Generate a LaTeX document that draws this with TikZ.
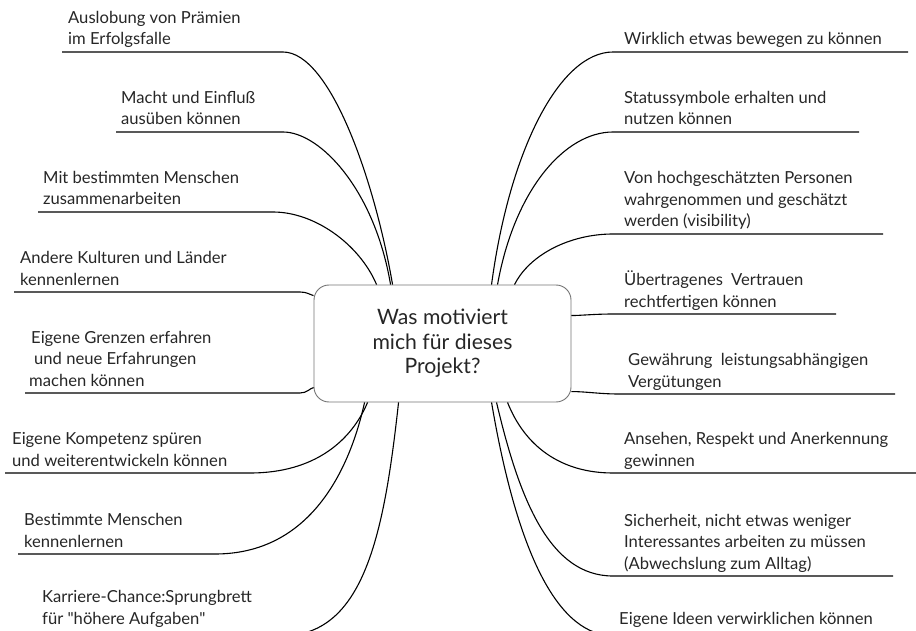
\documentclass[tikz,border=0pt]{standalone}
\usepackage{fontspec}
\setmainfont{Lato}
\begin{document}
\begin{tikzpicture}[x=1pt,y=-1pt,
  branch/.style={line width=1.1pt, black},
  % a leaf label sits with its last baseline 7pt above its underline
  leaf/.style={anchor=base west, align=left, inner sep=0pt,
    font=\fontsize{16.6}{21.5}\selectfont, text=black!85},
  hubbox/.style={draw=black!55, line width=0.9pt, rounded corners=15pt,
    minimum width=257pt, minimum height=117pt, inner sep=0pt,
    align=center, font=\fontsize{21.2}{24.5}\selectfont, text=black!85}]
\useasboundingbox (0,0) rectangle (916,631);

% central question
\node[hubbox] (hub) at (442.5,343.5) {Was motiviert\\mich für dieses\\Projekt?};

% attachment points on the border of the central box
\path (hub.north west)
  ++(79,0)  coordinate (t1) ++(-2,0) coordinate (t2) ++(-14,0) coordinate (t3);
\path (hub.north west)
  ++(178,0) coordinate (t4) ++(6,0) coordinate (t5) ++(17,0) coordinate (t6);
\path (hub.south west)
  ++(54,0) coordinate (b1) ++(-3,0) coordinate (b2) ++(34,0) coordinate (b3);
\path (hub.south west)
  ++(178,0) coordinate (b4) ++(5,0) coordinate (b5) ++(11,0) coordinate (b6);
\path (hub.north west) ++(0,11) coordinate (w1) ++(0,92) coordinate (w2);
\path (hub.north east) ++(0,31) coordinate (e1) ++(0,76) coordinate (e2);

% left branches
\node[leaf] (l1) at (68,45) {Auslobung von Prämien\\im Erfolgsfalle};
\coordinate (l1a) at (62,52);  \coordinate (l1b) at (283,52);
\draw[branch] (l1a) -- (l1b) .. controls +(47,0) and +(-18,-105) .. (t1);

\node[leaf] (l2) at (121,125) {Macht und Einfluß\\ausüben können};
\coordinate (l2a) at (116,132); \coordinate (l2b) at (283,132);
\draw[branch] (l2a) -- (l2b) .. controls +(37,0) and +(-16,-95) .. (t2);

\node[leaf] (l3) at (43,205) {Mit bestimmten Menschen\\zusammenarbeiten};
\coordinate (l3a) at (38,212); \coordinate (l3b) at (273,212);
\draw[branch] (l3a) -- (l3b) .. controls +(42,0) and +(-17,-40) .. (t3);

\node[leaf] (l4) at (20,285) {Andere Kulturen und Länder\\kennenlernen};
\coordinate (l4a) at (14,292); \coordinate (l4b) at (300,292);
\draw[branch] (l4a) -- (l4b) .. controls +(7,0) and +(-4,-1) .. (w1);

\node[leaf] (l5) at (29,386) {\hspace{2pt}Eigene Grenzen erfahren\\\hspace{5pt}und neue Erfahrungen\\machen können};
\coordinate (l5a) at (25,393); \coordinate (l5b) at (300,393);
\draw[branch] (l5a) -- (l5b) .. controls +(7,0) and +(-4,1) .. (w2);

\node[leaf] (l6) at (12,466) {Eigene Kompetenz spüren\\und weiterentwickeln können};
\coordinate (l6a) at (5,473); \coordinate (l6b) at (250,473);
\draw[branch] (l6a) -- (l6b) .. controls +(65,0) and +(-16,38) .. (b1);

\node[leaf] (l7) at (24,547) {Bestimmte Menschen\\kennenlernen};
\coordinate (l7a) at (18,554); \coordinate (l7b) at (215,554);
\draw[branch] (l7a) -- (l7b) .. controls +(95,0) and +(-15,68) .. (b2);

\node[leaf] (l8) at (42,624) {Karriere-Chance:Sprungbrett\\für \textquotedbl höhere Aufgaben\textquotedbl};
\coordinate (l8a) at (36,634); \coordinate (l8b) at (300,634);
\draw[branch] (l8a) -- (l8b) .. controls +(68,-14) and +(-13,118) .. (b3);

% right branches
\node[leaf] (r1) at (624,45) {Wirklich etwas bewegen zu können};
\coordinate (r1a) at (908,52); \coordinate (r1b) at (613,52);
\draw[branch] (r1a) -- (r1b) .. controls +(-53,0) and +(18,-135) .. (t4);

\node[leaf] (r2) at (624,125) {Statussymbole erhalten und\\nutzen können};
\coordinate (r2a) at (859,132); \coordinate (r2b) at (613,132);
\draw[branch] (r2a) -- (r2b) .. controls +(-48,0) and +(17,-95) .. (t5);

\node[leaf] (r3) at (624,227) {Von hochgeschätzten Personen\\wahrgenommen und geschätzt\\werden (visibility)};
\coordinate (r3a) at (883,234); \coordinate (r3b) at (613,234);
\draw[branch] (r3a) -- (r3b) .. controls +(-43,0) and +(15,-30) .. (t6);

\node[leaf] (r4) at (624,307) {Übertragenes\hspace{4pt} Vertrauen\\rechtfertigen können};
\coordinate (r4a) at (836,314); \coordinate (r4b) at (613,314);
\draw[branch] (r4a) -- (r4b) .. controls +(-18,0) and +(9,0) .. (e1);

\node[leaf] (r5) at (628,387) {Gewährung\hspace{4pt} leistungsabhängigen\\Vergütungen};
\coordinate (r5a) at (895,394); \coordinate (r5b) at (619,394);
\draw[branch] (r5a) -- (r5b) .. controls +(-19,0) and +(14,0) .. (e2);

\node[leaf] (r6) at (624,466) {Ansehen, Respekt und Anerkennung\\gewinnen};
\coordinate (r6a) at (916,473); \coordinate (r6b) at (613,473);
\draw[branch] (r6a) -- (r6b) .. controls +(-53,0) and +(17,43) .. (b6);

\node[leaf] (r7) at (624,569) {Sicherheit, nicht etwas weniger\\Interessantes arbeiten zu müssen\\(Abwechslung zum Alltag)};
\coordinate (r7a) at (893,576); \coordinate (r7b) at (613,576);
\draw[branch] (r7a) -- (r7b) .. controls +(-63,0) and +(23,98) .. (b5);

\node[leaf] (r8) at (619,624) {Eigene Ideen verwirklichen können};
\coordinate (r8a) at (890,634); \coordinate (r8b) at (600,634);
\draw[branch] (r8a) -- (r8b) .. controls +(-55,-14) and +(20,118) .. (b4);
\end{tikzpicture}
\end{document}
